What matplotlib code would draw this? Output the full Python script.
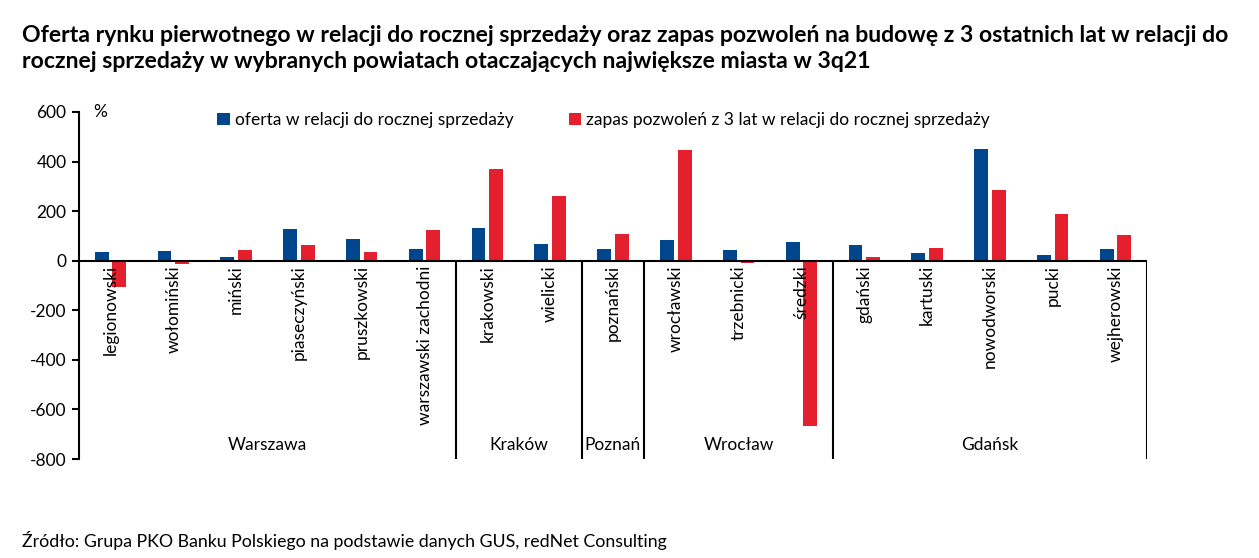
import numpy as np
import matplotlib.pyplot as plt

plt.rcParams['font.family'] = ['Lato', 'DejaVu Sans']
plt.rcParams['axes.unicode_minus'] = False

categories = ['legionowski', 'wołomiński', 'miński', 'piaseczyński', 'pruszkowski',
              'warszawski zachodni', 'krakowski', 'wielicki', 'poznański', 'wrocławski',
              'trzebnicki', 'średzki', 'gdański', 'kartuski', 'nowodworski', 'pucki',
              'wejherowski']
groups = ['Warszawa', 'Kraków', 'Poznań', 'Wrocław', 'Gdańsk']
group_sizes = [6, 2, 1, 3, 5]
oferta = [34, 40, 15, 126, 87, 46, 134, 66, 46, 82, 43, 74, 62, 30, 449, 24, 46]
zapas = [-108, -15, 44, 64, 34, 125, 372, 263, 107, 446, -9, -666, 15, 51, 285, 187, 103]

blue = '#00468C'
red = '#E4202E'

fig = plt.figure(figsize=(12.59, 5.58), dpi=100)
ax = fig.add_axes([79 / 1259, 99 / 558, 1068 / 1259, 347 / 558])

x = np.arange(len(categories))
w = 0.22
ax.bar(x - 0.14, oferta, w, color=blue, label='oferta w relacji do rocznej sprzedaży')
ax.bar(x + 0.14, zapas, w, color=red,
       label='zapas pozwoleń z 3 lat w relacji do rocznej sprzedaży')

ax.set_xlim(-0.5, len(categories) - 0.5)
ax.set_ylim(-800, 600)
ax.set_yticks(np.arange(-800, 601, 200))
ax.set_xticks([])
for s in ['top', 'right', 'bottom']:
    ax.spines[s].set_visible(False)
ax.spines['left'].set_linewidth(1.5)
ax.tick_params(axis='y', direction='out', length=5, width=1.5, labelsize=12.5, pad=4)
ax.axhline(0, color='black', lw=1.5)

# category labels below the zero line
for i, cat in enumerate(categories):
    ax.text(i, -18, cat, rotation=90, ha='center', va='top', fontsize=12.5)

# group separators and group names
edges = np.cumsum([0] + group_sizes) - 0.5
ax.vlines(edges[1:], -800, 0, color='black', lw=1.5)
for g, a, b in zip(groups, edges[:-1], edges[1:]):
    ax.text((a + b) / 2, -745, g, ha='center', va='center', fontsize=12.5)

ax.text(-0.17, 600, '%', ha='center', va='center', fontsize=12.5)

ax.legend(loc='upper left', bbox_to_anchor=(0.115, 1.045), ncol=2, frameon=False,
          fontsize=12.5, handlelength=0.7, handleheight=0.7, handletextpad=0.3,
          columnspacing=3.2)

fig.text(22 / 1259, 1 - 35 / 558,
         'Oferta rynku pierwotnego w relacji do rocznej sprzedaży oraz zapas pozwoleń na budowę z 3 ostatnich lat w relacji do',
         fontsize=16.6, fontweight='bold', va='center', ha='left')
fig.text(22 / 1259, 1 - 62 / 558,
         'rocznej sprzedaży w wybranych powiatach otaczających największe miasta w 3q21',
         fontsize=16.6, fontweight='bold', va='center', ha='left')
fig.text(22 / 1259, 1 - 540 / 558,
         'Źródło: Grupa PKO Banku Polskiego na podstawie danych GUS, redNet Consulting',
         fontsize=12.8, va='center', ha='left')

fig.savefig('out.png', dpi=100)
